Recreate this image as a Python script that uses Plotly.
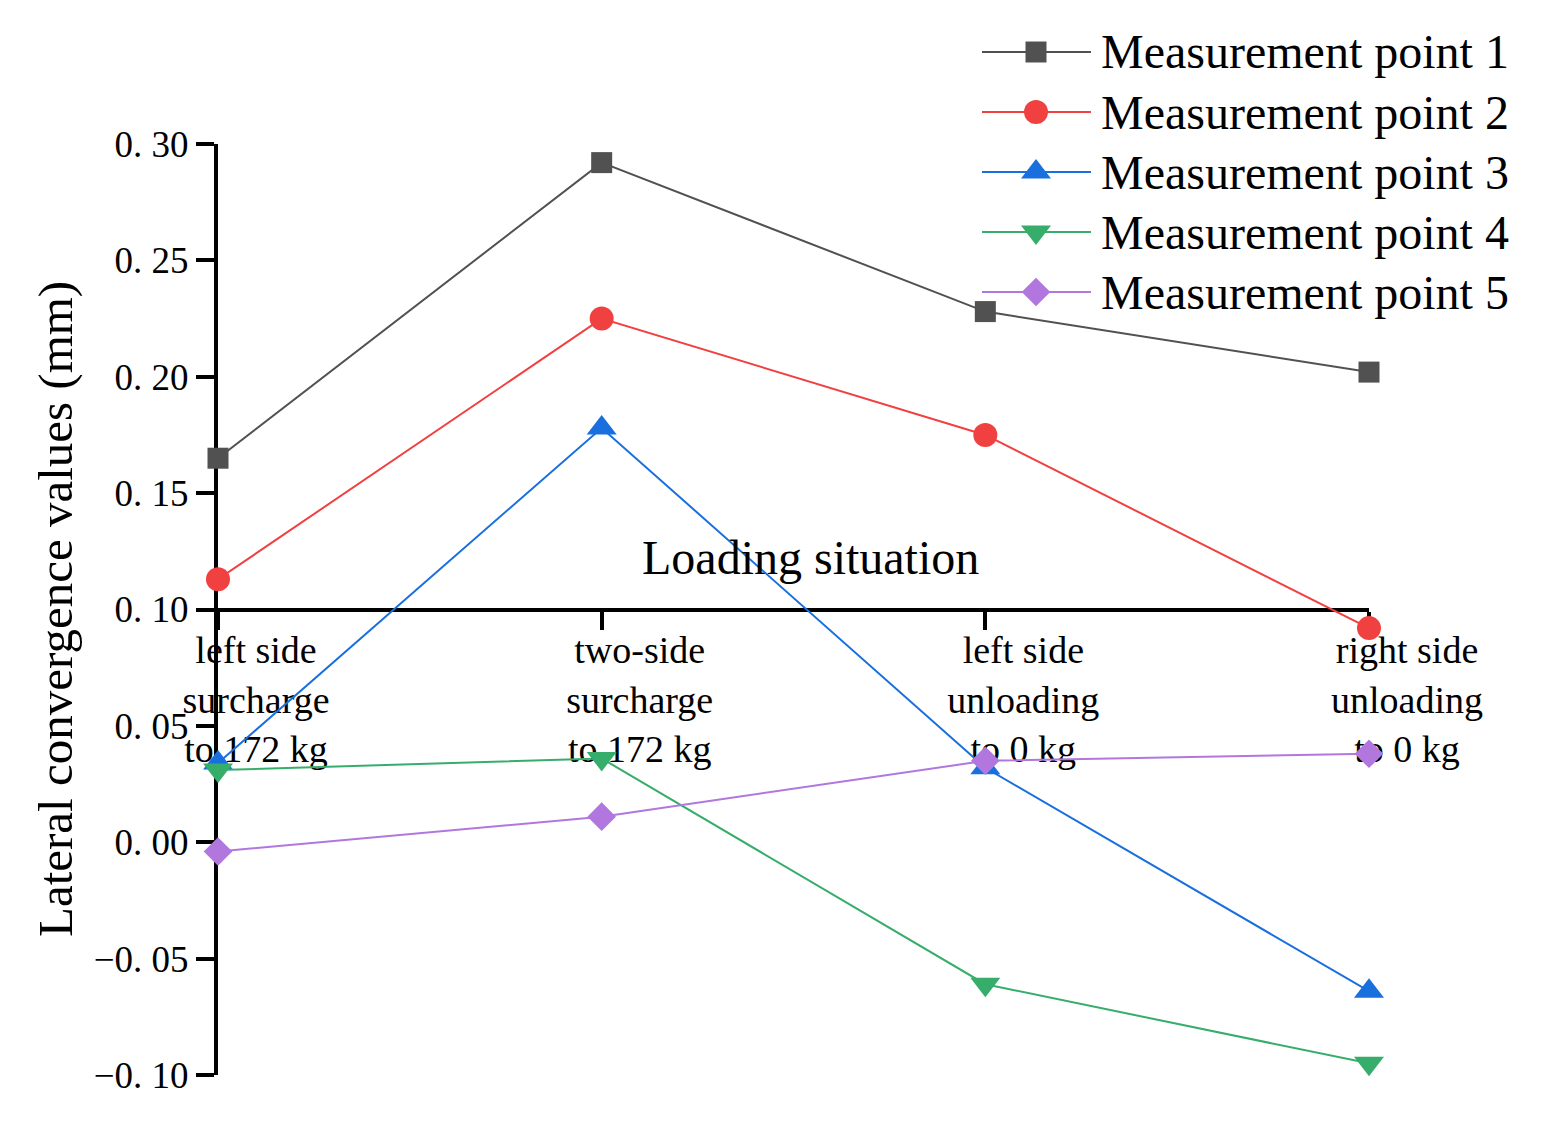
import plotly.graph_objects as go

# ---------------- data ----------------
categories = [
    "left side<br>surcharge<br>to 172 kg",
    "two-side<br>surcharge<br>to 172 kg",
    "left side<br>unloading<br>to 0 kg",
    "right side<br>unloading<br>to 0 kg",
]
series_names = [
    "Measurement point 1",
    "Measurement point 2",
    "Measurement point 3",
    "Measurement point 4",
    "Measurement point 5",
]
mp1 = [0.165, 0.292, 0.228, 0.202]
mp2 = [0.113, 0.225, 0.175, 0.092]
mp3 = [0.034, 0.178, 0.032, -0.064]
mp4 = [0.031, 0.036, -0.061, -0.095]
mp5 = [-0.004, 0.011, 0.035, 0.038]
series_values = [mp1, mp2, mp3, mp4, mp5]
y_ticks = [-0.10, -0.05, 0.00, 0.05, 0.10, 0.15, 0.20, 0.25, 0.30]

# ---------------- styles ----------------
colors = ["#515151", "#F14040", "#1A6FDF", "#37AD6B", "#B177DE"]
symbols = ["square", "circle", "triangle-up", "triangle-down", "diamond"]
msizes = [21, 24, 26, 26, 22]
FONT = "Liberation Serif"

# page geometry (page px); O = body margin offset
O = 8
PW, PH = 1542, 1146
W, H = PW - 2 * O, PH - 2 * O
PL, PR_EDGE, PT, PB_EDGE = 218, 1369, 144, 1075


def fx(p):
    return (p - O) / W


def fy(p):
    return 1 - (p - O) / H


def ytxt(v):
    s = f"{abs(v):.2f}".replace(".", ". ")
    return ("\u2212" + s) if v < -1e-9 else s


x_idx = list(range(len(categories)))

fig = go.Figure()
for name, vals, c, sym, ms in zip(series_names, series_values, colors, symbols, msizes):
    fig.add_trace(go.Scatter(
        x=x_idx, y=vals, name=name, mode="lines+markers",
        line=dict(color=c, width=2),
        marker=dict(symbol=sym, size=ms, color=c, opacity=1, line=dict(width=0)),
        cliponaxis=False, showlegend=False,
    ))

# custom legend drawn on a full-figure pixel axis pair (x2/y2)
legend_rows = [52, 112, 172, 232, 292]
for row, c in zip(legend_rows, colors):
    fig.add_trace(go.Scatter(
        x=[982, 1091], y=[row, row], mode="lines", xaxis="x2", yaxis="y2",
        line=dict(color=c, width=2), showlegend=False, hoverinfo="skip",
    ))
for row, c, sym, ms in zip(legend_rows, colors, symbols, msizes):
    fig.add_trace(go.Scatter(
        x=[1036], y=[row], mode="markers", xaxis="x2", yaxis="y2",
        marker=dict(symbol=sym, size=ms, color=c, opacity=1, line=dict(width=0)),
        showlegend=False, hoverinfo="skip",
    ))
for row, name in zip(legend_rows, series_names):
    fig.add_annotation(text=name, xref="paper", yref="paper",
                       x=fx(1099), y=fy(row), xanchor="left", yanchor="middle",
                       showarrow=False, font=dict(family=FONT, size=48, color="black"))

# axis titles
fig.add_annotation(text="Lateral convergence values (mm)", xref="paper", yref="paper",
                   x=fx(55), y=fy(609), textangle=-90, xanchor="center", yanchor="middle",
                   showarrow=False, font=dict(family=FONT, size=49, color="black"))
fig.add_annotation(text="Loading situation", xref="paper", yref="paper",
                   x=fx(810), y=fy(557), xanchor="center", yanchor="middle",
                   showarrow=False, font=dict(family=FONT, size=48, color="black"))

ydom = [fy(PB_EDGE), fy(PT)]
fig.update_layout(
    width=W, height=H,
    margin=dict(l=0, r=0, t=0, b=0, autoexpand=False),
    paper_bgcolor="white", plot_bgcolor="rgba(0,0,0,0)",
    showlegend=False,
    font=dict(family=FONT, color="black"),
    xaxis=dict(
        domain=[fx(PL), fx(PR_EDGE)],
        range=[0, 3], tickvals=x_idx, ticktext=categories,
        anchor="free", position=(ydom[0] + ydom[1]) / 2,
        showline=True, linecolor="black", linewidth=4,
        ticks="outside", ticklen=18, tickwidth=4, tickcolor="black",
        ticklabelshift=38, ticklabelstandoff=-12,
        tickfont=dict(family=FONT, size=38, color="black"),
        showgrid=False, zeroline=False, layer="below traces",
    ),
    yaxis=dict(
        domain=ydom,
        range=[-0.10, 0.30], tickvals=y_ticks, ticktext=[ytxt(v) for v in y_ticks],
        showline=True, linecolor="black", linewidth=4,
        ticks="outside", ticklen=18, tickwidth=4, tickcolor="black",
        tickfont=dict(family=FONT, size=37, color="black"),
        showgrid=False, zeroline=False, layer="below traces",
    ),
    xaxis2=dict(domain=[0, 1], anchor="y2", range=[O, O + W], visible=False),
    yaxis2=dict(domain=[0, 1], anchor="x2", range=[O + H, O], visible=False),
)

fig.write_html("out.html")
